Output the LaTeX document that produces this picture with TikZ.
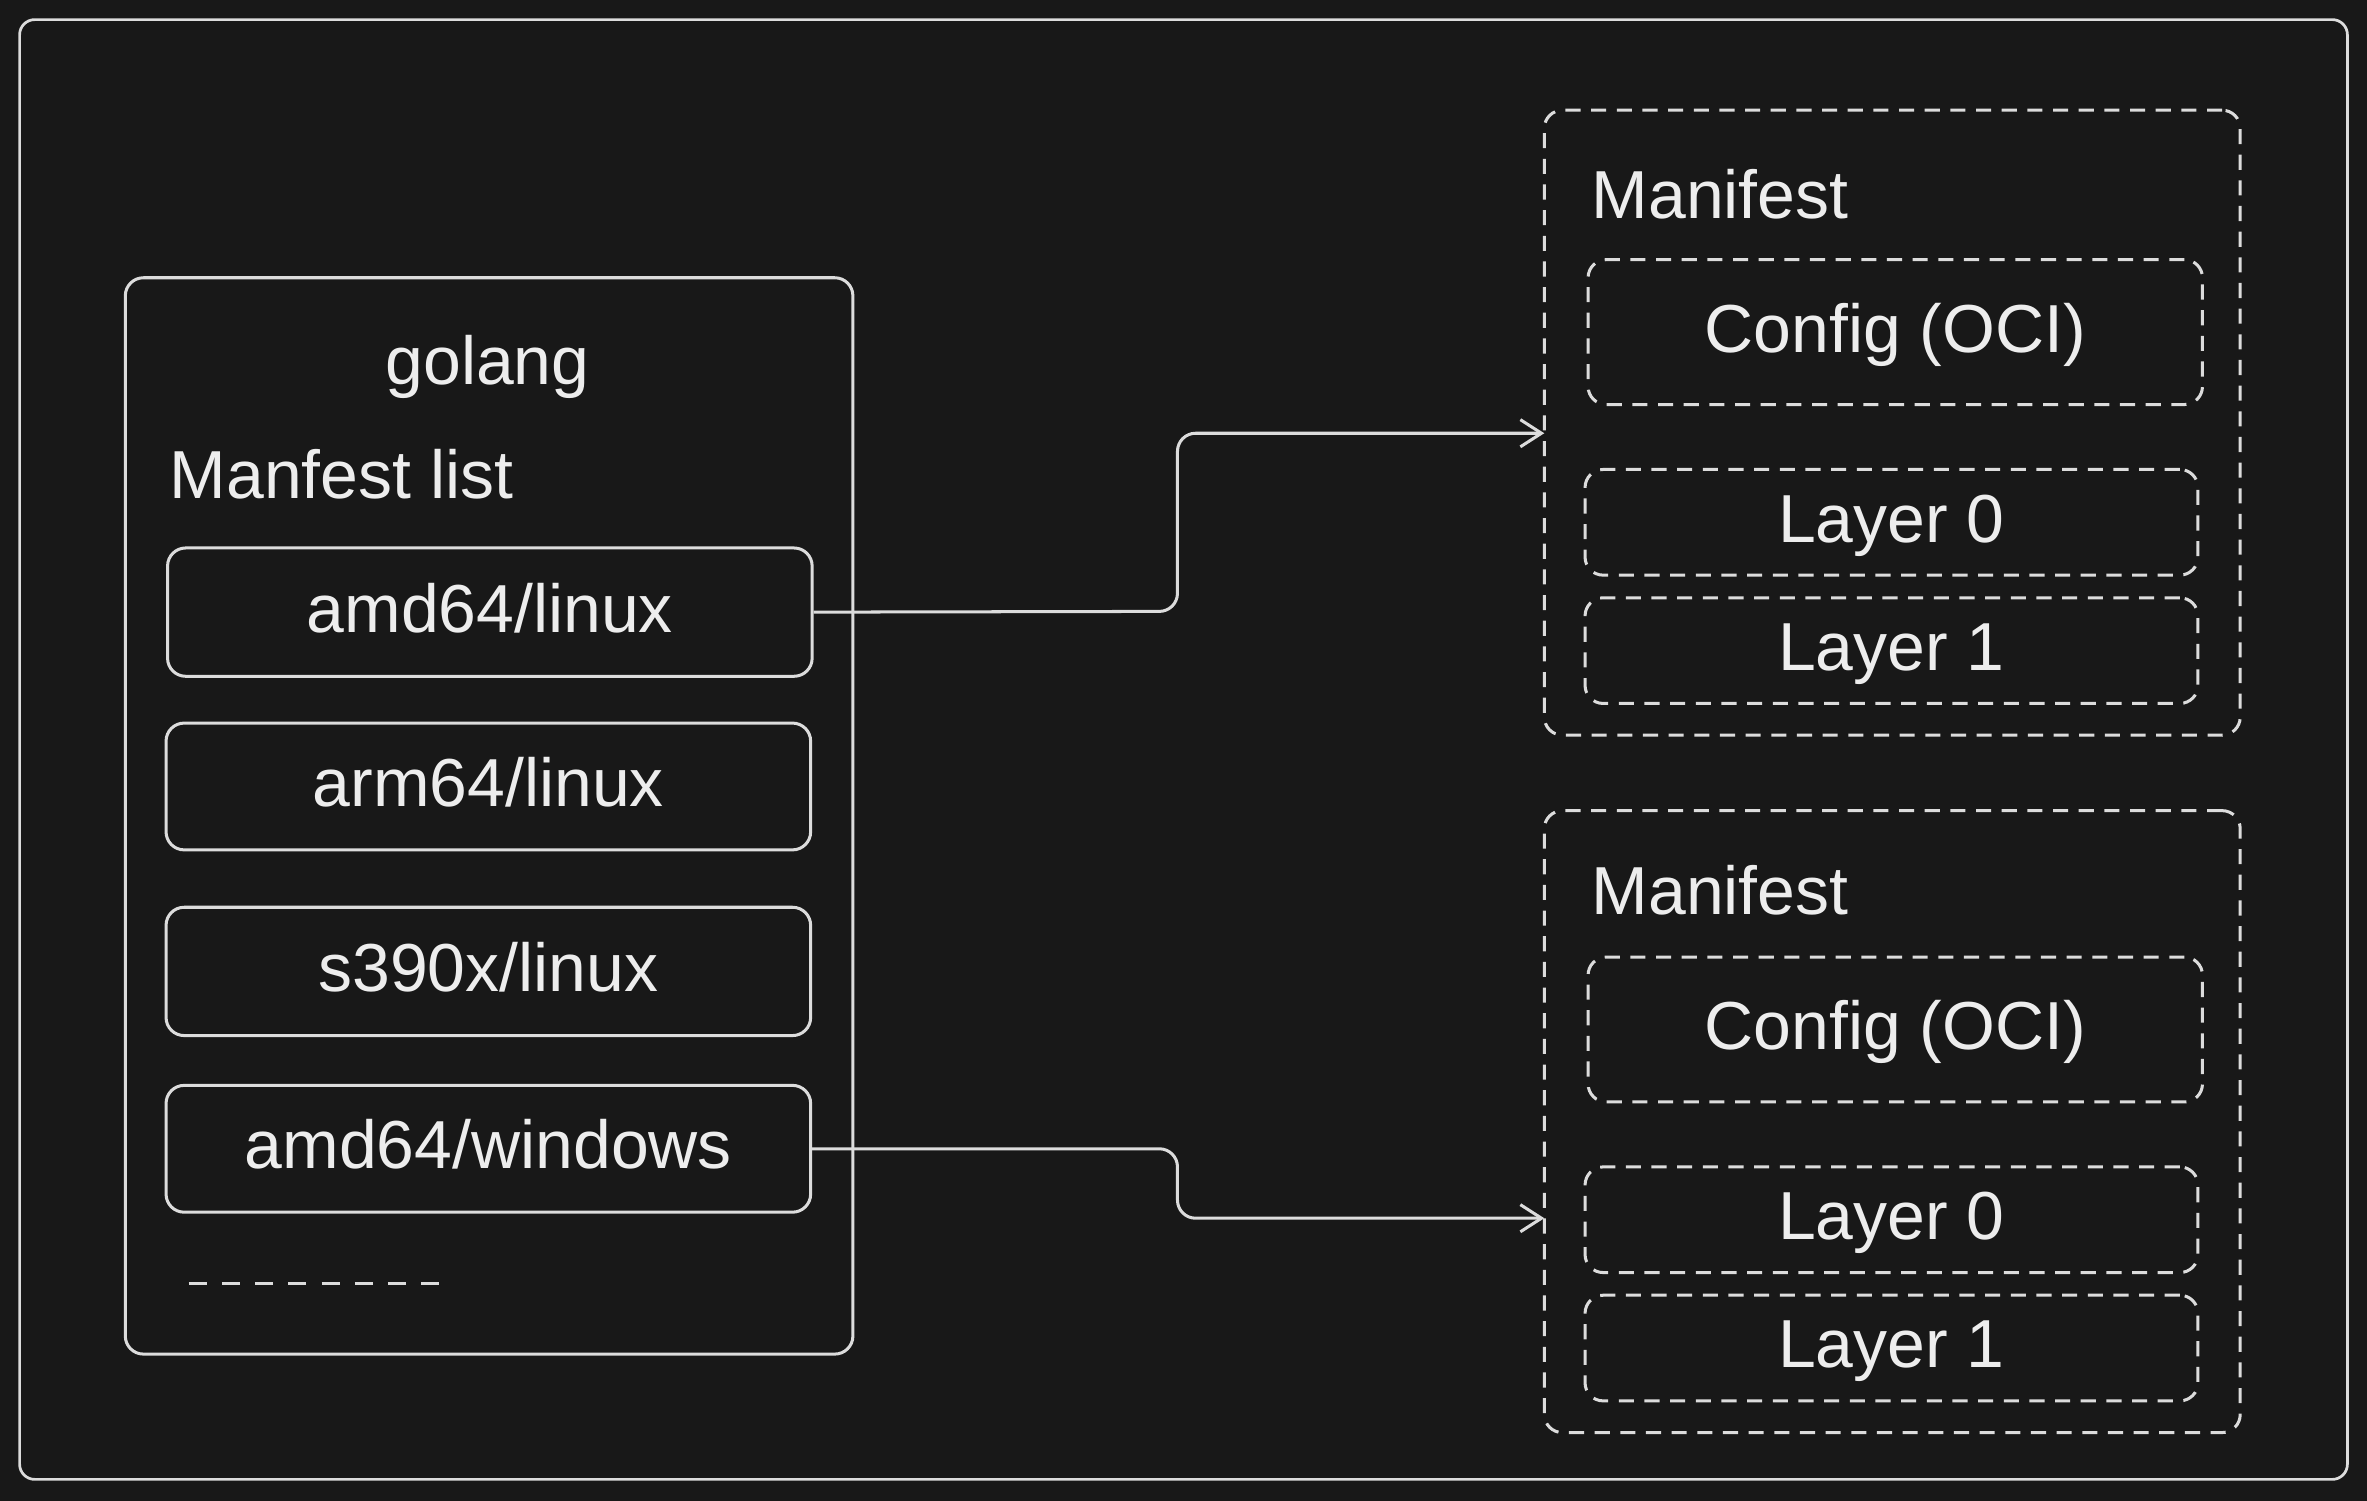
\documentclass[tikz,border=0pt]{standalone}
\usepackage{fontspec}
\setmainfont{Liberation Sans}
\usetikzlibrary{fit,arrows.meta}
\definecolor{bg}{HTML}{181818}
\definecolor{ln}{HTML}{DCDCDC}
\definecolor{tx}{HTML}{EDEDED}
\tikzset{
  lbl/.style={text=tx, inner sep=0pt, font=\fontsize{22.5}{27}\selectfont},
  boxlbl/.style={lbl, text height=16.2pt, text depth=0pt, yshift=1.5pt},
  frame/.style={draw=ln, line width=0.9pt, rounded corners=5pt, inner sep=0pt},
  solidbox/.style={draw=ln, line width=1pt, rounded corners=6pt, inner sep=0pt},
  dashbox/.style={solidbox, dash pattern=on 5pt off 3.5pt},
  conn/.style={draw=ln, line width=1pt, rounded corners=6pt,
    -{Straight Barb[length=7pt,width=9pt,line width=1pt]}},
}
\begin{document}
\begin{tikzpicture}[x=0.5pt,y=-0.5pt]
\fill[bg] (0,0) rectangle (1568,994);
\useasboundingbox (0,0) rectangle (1568,994);
% outer frame
\node[frame, fit={(13,13) (1555,980)}] (outer) {};
% golang manifest list
\node[solidbox, fit={(83,184) (565,897)}] (golang) {};
\node[lbl, anchor=base] (title) at (323,255) {golang};
\node[lbl, anchor=base west] (mlist) at (112,330) {Manfest list};
\node[solidbox, fit={(111,363) (538,448)}] (amdl) {};
\node[solidbox, fit={(110,479) (537,563)}] (arml) {};
\node[solidbox, fit={(110,601) (537,686)}] (s390) {};
\node[solidbox, fit={(110,719) (537,803)}] (amdw) {};
\node[boxlbl] (amdlt) at (amdl.center) {amd64/linux};
\node[boxlbl] (armlt) at (arml.center) {arm64/linux};
\node[boxlbl] (s390t) at (s390.center) {s390x/linux};
\node[boxlbl] (amdwt) at (amdw.center) {amd64/windows};
\coordinate (dl1) at (125,850);
\coordinate (dl2) at (297,850);
\draw[draw=ln, line width=1pt, dash pattern=on 6pt off 5pt] (dl1) -- (dl2);
% manifest 1
\node[dashbox, fit={(1023,73) (1484,487)}] (man1) {};
\node[lbl, anchor=base west] (man1t) at (1054,145) {Manifest};
\node[dashbox, fit={(1052,172) (1459,268)}] (cfg1) {};
\node[dashbox, fit={(1050,311) (1456,381)}] (l01) {};
\node[dashbox, fit={(1050,396) (1456,466)}] (l11) {};
\node[boxlbl] (cfg1t) at (cfg1.center) {Config (OCI)};
\node[boxlbl] (l01t) at (l01.center) {Layer 0};
\node[boxlbl] (l11t) at (l11.center) {Layer 1};
% manifest 2
\node[dashbox, fit={(1023,537) (1484,949)}] (man2) {};
\node[lbl, anchor=base west] (man2t) at (1054,606) {Manifest};
\node[dashbox, fit={(1052,634) (1459,730)}] (cfg2) {};
\node[dashbox, fit={(1050,773) (1456,843)}] (l02) {};
\node[dashbox, fit={(1050,858) (1456,928)}] (l12) {};
\node[boxlbl] (cfg2t) at (cfg2.center) {Config (OCI)};
\node[boxlbl] (l02t) at (l02.center) {Layer 0};
\node[boxlbl] (l12t) at (l12.center) {Layer 1};
% connectors
\coordinate (e1) at (1023,287);
\coordinate (e2) at (1023,807);
\draw[conn] (amdl.east) -- (780,405) -- (780,287) -- (e1);
\draw[conn] (amdw.east) -- (780,761) -- (780,807) -- (e2);
\end{tikzpicture}
\end{document}
